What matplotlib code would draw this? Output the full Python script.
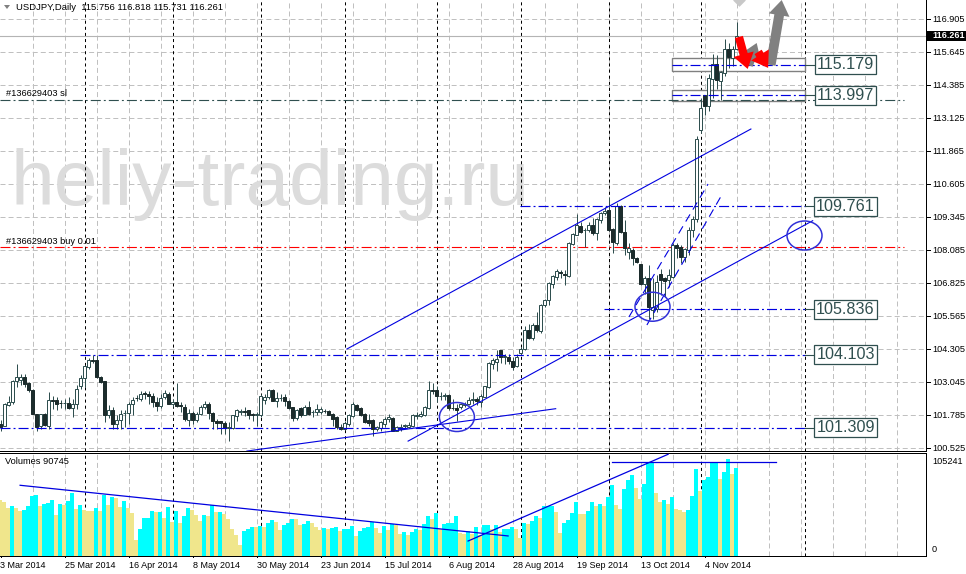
import numpy as np
import matplotlib
matplotlib.use('Agg')
import matplotlib.pyplot as plt
from matplotlib.patches import Ellipse, Rectangle, FancyArrowPatch

plt.rcParams['font.family'] = ['Liberation Sans', 'DejaVu Sans']
plt.rcParams['lines.scale_dashes'] = False

opens = [101.42, 101.35, 102.15, 102.25, 103.04, 103.10, 103.21, 102.98, 102.72, 101.80,
         101.32, 101.78, 101.35, 102.34, 102.34, 102.21, 102.22, 102.22, 102.02, 102.16,
         102.86, 103.18, 103.59, 103.87, 103.87, 103.21, 103.04, 101.74, 101.96, 101.42,
         101.57, 101.83, 101.83, 102.18, 102.42, 102.35, 102.59, 102.57, 102.50, 102.25,
         102.09, 102.44, 102.57, 102.16, 102.27, 102.12, 102.08, 101.57, 101.84, 101.58,
         101.80, 102.06, 102.18, 101.84, 101.52, 101.51, 101.46, 101.26, 101.26, 101.70,
         101.89, 101.90, 101.93, 101.80, 101.74, 101.74, 102.34, 102.44, 102.72, 102.31,
         102.41, 102.46, 102.31, 102.05, 101.63, 102.02, 101.76, 102.08, 101.86, 101.86,
         101.86, 101.92, 101.90, 101.80, 101.67, 101.31, 101.23, 101.42, 101.71, 102.14,
         102.02, 101.80, 101.57, 101.58, 101.23, 101.25, 101.42, 101.61, 101.65, 101.16,
         101.22, 101.33, 101.31, 101.35, 101.73, 101.71, 101.77, 102.03, 102.72, 102.72,
         102.50, 102.50, 102.53, 102.03, 102.03, 102.06, 102.13, 102.18, 102.33, 102.37,
         102.25, 102.46, 102.82, 103.71, 103.78, 104.22, 103.99, 103.97, 103.81, 103.62,
         104.12, 104.26, 104.99, 104.71, 105.21, 104.95, 105.95, 106.14, 106.75, 107.01,
         107.22, 107.13, 107.06, 108.30, 108.63, 108.98, 108.82, 108.82, 109.01, 108.69,
         109.20, 109.46, 109.58, 108.84, 108.31, 109.74, 108.73, 107.99, 108.05, 107.77,
         107.51, 106.74, 107.00, 105.76, 105.81, 107.15, 106.97, 106.91, 107.03, 108.25,
         108.18, 107.80, 108.06, 108.82, 109.23, 112.65, 113.97, 113.55, 114.59, 115.17,
         114.50, 114.82, 115.74, 115.40, 115.756]
closes = [101.29, 102.16, 102.27, 103.04, 103.21, 103.21, 102.95, 102.72, 101.80, 101.29,
          101.78, 101.38, 102.34, 102.31, 102.16, 102.20, 102.23, 102.03, 102.19, 102.76,
          103.18, 103.62, 103.85, 103.82, 103.21, 103.02, 101.74, 101.96, 101.42, 101.57,
          101.80, 101.84, 102.19, 102.34, 102.41, 102.57, 102.54, 102.49, 102.25, 102.09,
          102.41, 102.59, 102.18, 102.27, 102.09, 102.09, 101.61, 101.84, 101.58, 101.80,
          102.08, 102.18, 101.83, 101.52, 101.44, 101.46, 101.26, 101.29, 101.74, 101.93,
          101.91, 101.89, 101.77, 101.74, 101.80, 102.50, 102.46, 102.72, 102.31, 102.41,
          102.42, 102.29, 102.02, 101.63, 101.95, 101.74, 102.08, 101.80, 101.87, 101.99,
          101.99, 101.90, 101.77, 101.61, 101.31, 101.23, 101.46, 101.74, 102.18, 101.95,
          101.77, 101.48, 101.44, 101.23, 101.31, 101.48, 101.61, 101.67, 101.16, 101.29,
          101.31, 101.36, 101.39, 101.77, 101.77, 101.80, 102.08, 102.72, 102.69, 102.50,
          102.50, 102.52, 102.03, 102.02, 101.95, 102.16, 102.18, 102.33, 102.37, 102.28,
          102.50, 102.85, 103.74, 103.87, 103.91, 103.99, 104.00, 103.81, 103.58, 103.99,
          104.29, 104.99, 104.71, 105.21, 104.99, 105.97, 106.14, 106.78, 107.06, 107.26,
          107.18, 107.09, 108.34, 108.65, 109.01, 108.75, 108.83, 109.01, 108.69, 109.23,
          109.46, 109.56, 108.82, 108.37, 109.74, 108.73, 108.12, 108.12, 107.76, 107.58,
          106.74, 107.00, 105.88, 105.88, 106.84, 106.90, 106.88, 107.10, 108.25, 108.12,
          107.80, 108.08, 108.82, 109.23, 112.30, 113.48, 113.55, 114.61, 115.14, 114.54,
          114.85, 115.74, 115.44, 115.74, 116.261]
highs = [101.55, 102.22, 102.48, 103.08, 103.72, 103.33, 103.33, 103.02, 102.76, 101.80,
         101.80, 101.83, 102.63, 102.50, 102.44, 102.34, 102.38, 102.44, 102.38, 102.89,
         103.27, 103.65, 103.93, 104.06, 104.06, 103.23, 103.04, 102.12, 102.06, 101.74,
         101.93, 101.93, 102.25, 102.44, 102.53, 102.69, 102.69, 102.67, 102.59, 102.46,
         102.54, 102.72, 102.63, 102.37, 102.97, 102.25, 102.18, 101.99, 101.90, 101.86,
         102.14, 102.31, 102.25, 101.86, 101.61, 101.54, 101.54, 101.48, 101.76, 101.99,
         101.99, 102.08, 101.95, 101.84, 101.86, 102.57, 102.57, 102.76, 102.76, 102.63,
         102.57, 102.54, 102.34, 102.08, 101.99, 102.05, 102.14, 102.31, 101.95, 102.16,
         102.08, 101.99, 101.95, 101.83, 101.70, 101.42, 101.54, 101.80, 102.25, 102.18,
         102.05, 101.84, 101.80, 101.61, 101.35, 101.54, 101.67, 101.80, 101.67, 101.35,
         101.42, 101.42, 101.48, 101.80, 101.86, 101.90, 102.10, 103.04, 102.97, 102.88,
         102.63, 102.59, 102.56, 102.37, 102.18, 102.21, 102.27, 102.44, 102.63, 102.44,
         102.56, 102.88, 103.78, 103.94, 104.22, 104.25, 104.10, 104.10, 103.97, 104.07,
         104.35, 105.14, 105.22, 105.27, 105.69, 106.01, 106.20, 106.84, 107.10, 107.35,
         107.29, 107.31, 108.37, 108.72, 109.43, 109.14, 108.88, 109.14, 109.26, 109.26,
         109.52, 109.71, 110.09, 108.88, 109.84, 109.77, 109.20, 108.31, 108.12, 107.80,
         107.54, 107.06, 107.48, 107.00, 107.10, 107.35, 107.03, 107.35, 108.31, 108.31,
         108.25, 108.12, 108.95, 109.36, 112.42, 113.87, 113.99, 114.76, 115.53, 115.49,
         114.89, 116.10, 115.97, 115.85, 116.818]
lows = [101.16, 101.32, 102.10, 102.19, 102.82, 102.89, 102.82, 102.63, 101.78, 101.13,
        101.23, 101.32, 101.23, 102.00, 101.93, 102.02, 102.00, 102.00, 101.67, 102.00,
        102.76, 102.82, 103.53, 103.76, 103.18, 102.98, 101.48, 101.64, 101.23, 101.23,
        101.23, 101.29, 101.42, 101.77, 102.31, 102.31, 102.37, 102.18, 102.05, 101.90,
        102.03, 102.37, 102.16, 102.05, 102.05, 101.86, 101.54, 101.35, 101.42, 101.48,
        101.74, 101.99, 101.61, 101.23, 101.23, 101.03, 101.03, 100.75, 101.23, 101.54,
        101.74, 101.70, 101.61, 101.54, 101.35, 101.67, 102.18, 102.37, 102.29, 102.05,
        102.31, 102.09, 101.99, 101.52, 101.58, 101.67, 101.74, 101.74, 101.67, 101.76,
        101.80, 101.83, 101.74, 101.35, 101.23, 101.20, 101.19, 101.35, 101.67, 101.90,
        101.71, 101.44, 101.35, 100.97, 101.16, 101.16, 101.29, 101.48, 101.13, 101.13,
        101.16, 101.26, 101.26, 101.29, 101.61, 101.67, 101.73, 101.99, 102.56, 102.25,
        102.33, 102.33, 101.93, 101.93, 101.52, 101.99, 102.06, 102.12, 102.18, 102.12,
        102.05, 102.44, 102.79, 103.52, 103.43, 103.74, 103.69, 103.71, 103.46, 103.58,
        104.03, 104.22, 104.67, 104.63, 104.93, 104.90, 105.88, 105.95, 106.59, 106.90,
        106.97, 106.71, 107.03, 108.25, 108.63, 108.69, 108.18, 108.75, 108.63, 108.43,
        109.07, 109.39, 108.79, 107.95, 108.24, 108.69, 107.86, 107.73, 107.48, 107.57,
        106.71, 106.39, 105.43, 105.43, 105.69, 106.32, 106.27, 106.65, 106.97, 107.74,
        107.55, 107.61, 107.86, 108.57, 109.14, 112.53, 113.23, 113.36, 113.87, 114.19,
        113.80, 114.70, 115.02, 115.08, 115.731]

# volumes in thousands of ticks
volumes = [61.2, 58.7, 52.5, 54.0, 52.5, 48.5, 49.6, 54.0, 65.2, 66.0,
           54.0, 56.9, 58.0, 60.5, 44.2, 56.1, 55.1, 59.4, 68.1, 50.7,
           55.1, 49.6, 48.9, 48.8, 52.5, 48.5, 66.7, 55.1, 63.8, 63.5,
           53.2, 59.4, 52.5, 46.3, 16.9, 28.9, 40.9, 41.0, 48.5, 47.4,
           47.5, 40.9, 52.9, 37.3, 48.5, 35.4, 43.1, 51.8, 50.3, 44.2,
           38.0, 44.2, 43.1, 55.1, 47.4, 47.6, 45.2, 39.8, 29.6, 22.4,
           11.5, 26.7, 28.9, 31.1, 31.0, 32.2, 31.1, 35.4, 38.7, 36.5,
           27.8, 33.3, 35.4, 39.8, 39.7, 33.3, 34.3, 37.6, 35.4, 31.1,
           27.8, 30.0, 29.0, 30.0, 31.1, 26.7, 28.9, 29.0, 32.2, 21.3,
           26.7, 30.0, 31.1, 37.3, 30.0, 25.0, 32.2, 27.8, 34.3, 33.3,
           23.4, 25.6, 22.4, 25.6, 28.9, 27.8, 34.3, 43.1, 39.8, 46.3,
           28.9, 35.0, 35.4, 35.6, 43.1, 24.5, 24.2, 26.7, 24.2, 31.1,
           22.4, 33.3, 33.6, 29.6, 33.3, 26.0, 28.9, 29.1, 31.1, 28.9,
           19.8, 35.4, 35.2, 37.6, 43.1, 40.9, 54.0, 54.2, 54.4, 47.4,
           24.5, 35.4, 38.7, 46.3, 58.3, 46.0, 45.6, 48.5, 58.3, 54.0,
           56.1, 54.0, 63.8, 76.9, 55.1, 50.7, 72.5, 82.3, 87.8, 73.6,
           61.6, 77.9, 102.3, 102.5, 68.1, 58.3, 60.5, 56.9, 63.8, 51.4,
           49.6, 47.4, 49.6, 64.9, 94.3, 70.3, 82.3, 85.6, 102.3, 102.5,
           83.4, 91.0, 105.2, 88.8, 95.4]

price_ticks = ['116.905', '115.645', '114.385', '113.125', '111.865', '110.605', '109.345',
               '108.085', '106.825', '105.565', '104.305', '103.045', '101.785', '100.525']
date_labels = ['3 Mar 2014', '25 Mar 2014', '16 Apr 2014', '8 May 2014', '30 May 2014',
               '23 Jun 2014', '15 Jul 2014', '6 Aug 2014', '28 Aug 2014', '19 Sep 2014',
               '13 Oct 2014', '4 Nov 2014']
month_bars = [21, 43, 65, 86, 109, 130, 152, 175, 201]

# level, first bar
levels = [(115.179, 167.9), (113.997, 167.9), (109.761, 129.9),
          (105.836, 150.9), (104.103, 19.9), (101.309, -0.125)]
zones = [(114.95, 115.41), (113.79, 114.21)]
order_sl = 113.81
order_buy = 108.20
last_price = 116.261

# (bar, price) pairs
channel_top = [(86.6, 104.316), (187.6, 112.716)]
channel_bottom = [(101.9, 100.80), (203.05, 109.215)]
support = [(61.6, 100.42), (138.8, 102.037)]
steep_upper = [(157.1, 105.538), (176.9, 110.616)]
steep_lower = [(161.6, 105.233), (180.6, 110.273)]
circles = [(114.1, 101.72), (163.0, 105.93), (201.0, 108.65)]
red_arrows = [((184.6, 116.23), (186.8, 115.01)), ((189.4, 115.66), (191.9, 115.05))]
gray_arrows = [((186.9, 115.16), (189.05, 116.0)), ((192.55, 115.16), (195.3, 117.64))]
vol_down = [(4.9, 76.9), (126.9, 21.8)]
vol_up = [(116.9, 16.3), (166.9, 110.6)]
vol_top = [(152.8, 102.7), (193.9, 102.7)]

BLUE = '#0000e0'
SLATE = '#2f4f4f'
GRID = '#c0c0c0'
px = 0.72
grid_dash = (0, (3.6, 2.2))
month_dash = (0, (2.2, 2.2))
dashdot = (0, (7.2, 2.2, 1.4, 2.2))

W, H = 966, 574
fig = plt.figure(figsize=(W / 100, H / 100), dpi=100, facecolor='white')
ax = fig.add_axes([0, (H - 451) / H, 926 / W, 451 / H])
vx = fig.add_axes([0, (H - 556) / H, 926 / W, 103 / H])

xlim = (-0.125, 231.375)
ax.set_xlim(xlim)
ax.set_ylim(100.422, 117.642)
vx.set_xlim(xlim)
vx.set_ylim(0, 112)

for a in (ax, vx):
    for s in ('top', 'left'):
        a.spines[s].set_visible(False)
    for s in ('bottom', 'right'):
        a.spines[s].set_linewidth(px)
    a.set_yticks([])
    a.set_xticks([])
vx.spines['top'].set_visible(True)
vx.spines['top'].set_linewidth(px)

# the grid
for k in range(8, 232, 8):
    ax.axvline(k, color=GRID, lw=px, ls=grid_dash, zorder=1)
    vx.axvline(k, color=GRID, lw=px, ls=grid_dash, zorder=1)
vx.axhline(0.3, color=GRID, lw=px, ls=grid_dash, zorder=1)
tick_values = [float(t) for t in price_ticks]
for p in tick_values:
    ax.axhline(p, color=GRID, lw=px, ls=grid_dash, zorder=1)
for k in month_bars:
    ax.axvline(k, color='black', lw=px, ls=month_dash, zorder=1.2)
    vx.axvline(k, color='black', lw=px, ls=month_dash, zorder=1.2)

ax.text(2.4, 109.8, 'heliy-trading.ru', fontsize=56.5, color='#dcdcdc', ha='left',
        va='baseline', zorder=1.1)

# zones and order lines under the candles
for lo, hi in zones:
    ax.add_patch(Rectangle((167.9, lo), 33.2, hi - lo, fc='white', ec='#808080', lw=1, zorder=1.5))
ax.axhline(last_price, color='#b4b4b4', lw=0.8, zorder=1.6)
ax.plot([xlim[0], 225.9], [order_buy, order_buy], color='#ff0000', lw=0.8, ls=dashdot, zorder=1.7)
ax.plot([xlim[0], 225.9], [order_sl, order_sl], color=SLATE, lw=0.8, ls=dashdot, zorder=1.7)

# candles, the hand readings sit a touch low against the true price scale
bars = np.arange(len(opens))
shift = np.full(len(opens), 0.04)
shift[-1] = 0
o = np.array(opens) + shift
c = np.array(closes) + shift
h = np.array(highs) + shift
l = np.array(lows) + shift
ax.vlines(bars, l, h, color=SLATE, lw=px, zorder=3)
up = c >= o
ax.bar(bars[up], (c - o)[up], bottom=o[up], width=0.6, fc='white', ec=SLATE, lw=px, zorder=3.1)
ax.bar(bars[~up], (o - c)[~up], bottom=c[~up], width=0.6, fc='#1c2c2c', ec='#1c2c2c', lw=px, zorder=3.1)

# horizontal levels with their price boxes
for level, start in levels:
    ax.plot([start, 201.1], [level, level], color=BLUE, lw=0.85, ls=dashdot, zorder=4)
    ax.plot([201.1, 203.6], [level, level], color=SLATE, lw=0.8, zorder=4)
    ax.text(211.25, level, '%.3f' % level, fontsize=11.6, color=SLATE, ha='center', va='center',
            zorder=6, bbox=dict(boxstyle='square,pad=0.12', fc='white', ec=SLATE, lw=0.9))

# trend lines
for line in (channel_top, channel_bottom, support):
    ax.plot(*zip(*line), color=BLUE, lw=0.8, zorder=4)
for line in (steep_upper, steep_lower):
    ax.plot(*zip(*line), color=BLUE, lw=0.8, ls=(0, (6, 4)), zorder=4)
for k, p in circles:
    ax.add_patch(Ellipse((k, p), 8.75, 1.107, fc='none', ec='#3030d8', lw=1.1, zorder=4.5))

# arrows
for (a, b) in gray_arrows:
    ax.add_patch(FancyArrowPatch(a, b, arrowstyle='simple,head_length=1.1,head_width=1.5,tail_width=0.7',
                                 mutation_scale=10, fc='#808080', ec='#808080', lw=0,
                                 shrinkA=0, shrinkB=0, zorder=5))
for (a, b) in red_arrows:
    ax.add_patch(FancyArrowPatch(a, b, arrowstyle='simple,head_length=1.1,head_width=1.5,tail_width=0.6',
                                 mutation_scale=10, fc='#ff0000', ec='#ff0000', lw=0,
                                 shrinkA=0, shrinkB=0, zorder=5))
ax.scatter([184.7], [117.64], marker='D', s=42, color='#c8c8c8', lw=0, zorder=5)

# volume panel
vol = np.array(volumes)
vol_colors = ['#f0e68c'] + ['#00ffff' if vol[i] > vol[i - 1] else '#f0e68c' for i in range(1, len(vol))]
vx.bar(bars - 0.625, vol, width=1, align='edge', color=vol_colors, lw=0, antialiased=False, zorder=2)
for line in (vol_down, vol_up, vol_top):
    vx.plot(*zip(*line), color=BLUE, lw=0.9, zorder=4)


def put(x, y, s, **kw):
    fig.text(x / W, 1 - y / H, s, fontsize=kw.pop('fontsize', 6.7), va='center', **kw)


put(16, 7, 'USDJPY,Daily  115.756 116.818 115.731 116.261', color='black', fontsize=6.8)
fig.add_artist(plt.Polygon([[4 / W, 1 - 5 / H], [10 / W, 1 - 5 / H], [7 / W, 1 - 9 / H]],
                           closed=True, fc='#808080', ec='none', transform=fig.transFigure))
put(6, 94, '#136629403 sl', color='black')
put(6, 241, '#136629403 buy 0.01', color='black')
put(5, 462, 'Volumes 90745', color='black')

# right hand scale
trans = ax.get_yaxis_transform()
for p, t in zip(tick_values, price_ticks):
    ax.plot([1, 1.004], [p, p], color='black', lw=px, transform=trans, clip_on=False, zorder=7)
    ax.text(1.0065, p, t, transform=trans, fontsize=6.6, va='center', ha='left', clip_on=False)
fig.patches.append(Rectangle((927 / W, 1 - 40.5 / H), 39 / W, 9.5 / H, fc='black', ec='none',
                             transform=fig.transFigure, figure=fig))
put(932, 36, '116.261', color='white', fontweight='bold', fontsize=6.5)
put(932, 462, '105241', color='black', fontsize=6.6)
put(932, 549, '0', color='black', fontsize=6.6)

# date scale
for i, t in enumerate(date_labels):
    x = 64 * i
    vx.plot([x / 4, x / 4], [0, -1.4], color='black', lw=px, clip_on=False, zorder=7)
    put(x + (0 if i == 0 else 1), 565, t, color='black', fontsize=6.5)

plt.savefig('out.png', dpi=100)
